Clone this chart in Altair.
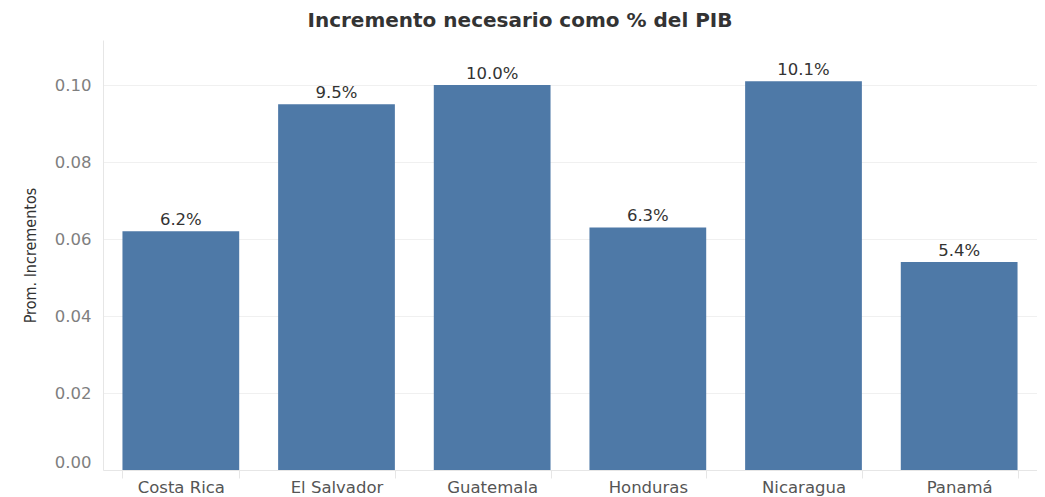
import altair as alt
import pandas as pd

paises = ["Costa Rica", "El Salvador", "Guatemala", "Honduras", "Nicaragua", "Panamá"]
incrementos = [0.062, 0.095, 0.100, 0.063, 0.101, 0.054]
ticks_y = [0, 0.02, 0.04, 0.06, 0.08, 0.10]

df = pd.DataFrame({"Pais": paises, "Incremento": incrementos})

FONT = "DejaVu Sans"

base = alt.Chart(df).encode(
    x=alt.X("Pais:N", sort=paises, title=None,
            scale=alt.Scale(paddingInner=0.25, paddingOuter=0.125),
            axis=alt.Axis(labelAngle=0, labelFontSize=16.5, labelColor="#555555",
                          labelFont=FONT, labelPadding=1, tickBand="extent",
                          ticks=True, tickColor="#e6e6e6", tickSize=8,
                          domainColor="#e6e6e6", grid=False)),
    y=alt.Y("Incremento:Q", title="Prom. Incrementos",
            scale=alt.Scale(domain=[0, 0.1117], nice=False, zero=True),
            axis=alt.Axis(values=ticks_y, format=".2f", labelFlush=True,
                          labelFontSize=16.5, labelColor="#7f7f7f", labelFont=FONT,
                          labelPadding=12, ticks=False, domainColor="#e6e6e6",
                          gridColor="#f0f0f0", titleFont="'DejaVu Sans Condensed', 'DejaVu Sans'",
                          titleFontSize=16, titleFontWeight="normal", titleColor="#333333",
                          titlePadding=16)),
)

bars = base.mark_bar(color="#4e79a7")
labels = base.mark_text(dy=-11, fontSize=16.5, color="#333333", font=FONT).encode(
    text=alt.Text("Incremento:Q", format=".1%")
)

chart = (bars + labels).properties(
    width=934, height=430,
    title=alt.TitleParams("Incremento necesario como % del PIB", font=FONT,
                          fontSize=20, fontWeight="bold", color="#333333",
                          anchor="middle", dx=-50, offset=9),
    autosize=alt.AutoSizeParams(type="none"),
    padding={"left": 95, "top": 32, "right": 0, "bottom": 26},
).configure_view(stroke=None)

chart.save("out.html", embed_options={"renderer": "svg", "actions": False})
